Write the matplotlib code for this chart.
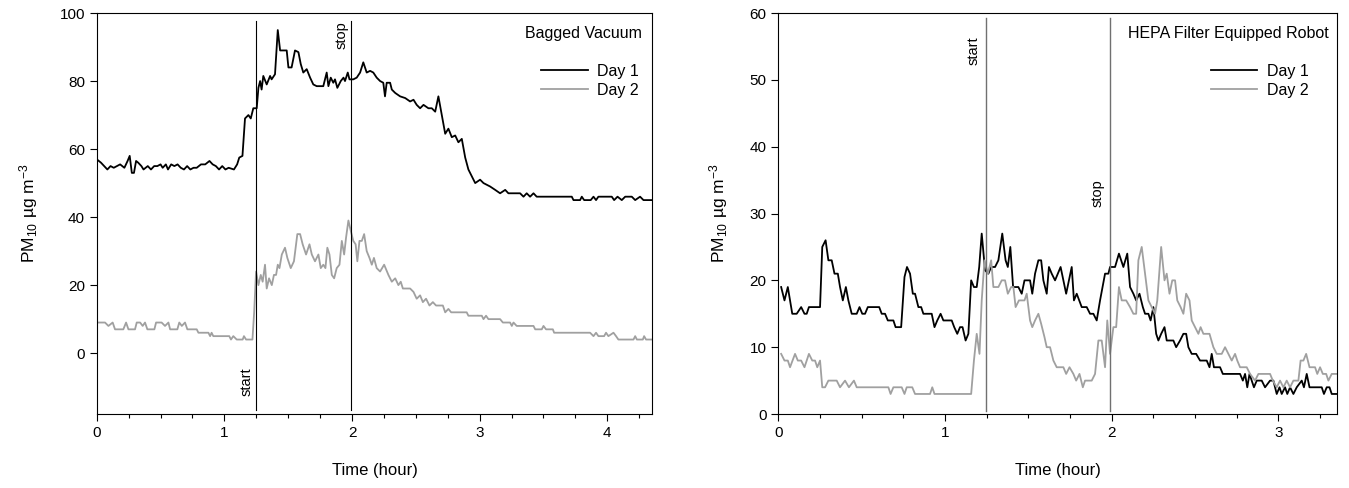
import numpy as np
import matplotlib.pyplot as plt

plt.rcParams['font.family'] = ['Liberation Sans', 'DejaVu Sans']
plt.rcParams['mathtext.fontset'] = 'custom'
plt.rcParams['mathtext.rm'] = 'Liberation Sans'
plt.rcParams['mathtext.it'] = 'Liberation Sans'

# ---- Bagged Vacuum (minutes, PM10 ug/m3) ----
bag_day1_min = [0, 2, 3.5, 5, 6.5, 8, 9.5, 11, 13, 14.5, 15.5, 16.5, 17.5, 18.5, 19.5, 21, 22, 24, 25.5,
                27, 28.5, 30, 31, 32.5, 33.5, 35, 36.5, 38, 39.5, 41, 42.5, 44, 45.5, 47, 49, 51, 53,
                54.5, 56, 57.5, 59, 60.5, 62, 64.5, 66, 67, 68.5, 69.7, 71.3, 72.4, 73.6, 75.2, 76,
                76.8, 77.5, 78.3, 79.9, 81.5, 82.2, 83.8, 85.1, 86.2, 89.3, 90.1, 91.6, 93.2, 94.8,
                95.9, 97.1, 98.7, 100.3, 101.8, 103.4, 106.5, 108.1, 108.9, 110, 111.2, 112, 113.1,
                114.7, 116, 116.7, 118, 118.8, 120.6, 122.2, 123.8, 125.3, 126.9, 128.5, 130, 131.6,
                133.2, 134.7, 135.5, 136.3, 137.9, 138.7, 140.3, 142.6, 145, 147.3, 148.9, 150.4,
                152, 153.6, 155.9, 157.5, 159.1, 160.6, 162.2, 163.8, 165.3, 166.9, 168.5, 170,
                171.6, 173.2, 174.7, 177.9, 180.2, 181.8, 184.9, 187.3, 189.6, 192, 193.5, 195.1,
                199, 200.6, 202.1, 203.7, 205.3, 206.8, 223.3, 224.1, 227.2, 228, 229.1, 232.2,
                233.5, 234.7, 235.8, 242.1, 243.2, 244.8, 246.8, 248.4, 251.5, 253.1, 255.4, 257,
                261.2]
bag_day1_val = [57, 56, 55, 54, 55, 54.5, 55, 55.5, 54.5, 56.5, 58, 53, 53, 56.5, 56, 55, 54, 55, 54,
                55, 55, 55.5, 54.5, 55.5, 54, 55.5, 55, 55.5, 54.5, 54, 55, 54, 54.5, 54.5, 55.5,
                55.5, 56.5, 55.5, 55, 54, 55, 54, 54.5, 54, 55.5, 57.5, 58, 69, 70, 69, 72, 72, 78,
                80, 77.5, 81.5, 79, 81.5, 80.5, 82, 95, 89, 89, 84, 84, 89, 88.5, 85, 82.5, 83.5,
                81, 79, 78.5, 78.5, 82.5, 78.5, 81, 79.5, 80.5, 78, 80, 81, 80, 82.5, 80.5, 80.5,
                81, 82.5, 85.5, 82.5, 83, 82.5, 81, 80, 79.5, 75.5, 79.5, 79.5, 77.5, 76.5, 75.5,
                75, 74, 74.5, 73, 72, 73, 72, 72, 71, 75.5, 70, 64.5, 66, 63.5, 64, 62, 63, 57.5,
                54, 50, 51, 50, 49, 48, 47, 48, 47, 47, 47, 46, 47, 46, 47, 46, 46, 45, 45, 46,
                45, 45, 46, 45, 46, 46, 45, 46, 45, 46, 46, 45, 46, 45, 45]

bag_day2_min = [0, 3.9, 5.5, 7.5, 8.6, 12.5, 13.8, 14.9, 18, 18.8, 20.4, 21.6, 22.7, 23.8, 27.1, 27.9,
                30.5, 32.1, 33.7, 34.5, 37.9, 38.8, 40, 41.5, 42.6, 47, 47.8, 52.5, 53.3, 54, 54.8,
                62.3, 63.1, 64.2, 65.8, 68.6, 69.2, 70.2, 73.2, 74, 74.9, 76, 77.1, 78, 79.1, 79.9,
                81, 82.3, 83.3, 84.3, 85.1, 85.9, 87, 88.5, 89.6, 91.2, 92.7, 94.3, 95.6, 96.8,
                98.4, 100, 101.1, 102.6, 104.2, 105.3, 106.5, 107.5, 108.4, 109.4, 110.5, 111.6,
                112.8, 114.1, 115.2, 116.3, 117.2, 118.3, 119.4, 120.6, 121.7, 122.5, 123.5, 124.6,
                125.7, 126.9, 128.2, 129.3, 130.3, 131.6, 133.2, 135.1, 137.1, 138.7, 140.3, 141.8,
                142.9, 143.9, 147.3, 148.9, 150.4, 152, 153.3, 154.8, 156.4, 158, 159.5, 162.7,
                163.8, 165.3, 166.6, 173.9, 174.7, 181, 181.8, 183, 184.1, 189.6, 190.9, 194.3,
                195.1, 195.9, 197.4, 205.3, 206.1, 209.2, 210, 211.2, 214.4, 215, 231.9, 233.5,
                234.7, 235.8, 238.5, 239.4, 240.5, 242.9, 244.1, 245.2, 252.3, 253.1, 253.9, 256.7,
                257.3, 258.2, 261.2]
bag_day2_val = [9, 9, 8, 9, 7, 7, 9, 7, 7, 9, 9, 8, 9, 7, 7, 9, 9, 8, 9, 7, 7, 9, 8, 9, 7, 7, 6, 6, 5,
                6, 5, 5, 4, 5, 4, 4, 5, 4, 4, 12, 24, 20, 23, 21, 26, 19, 22, 20, 23, 23, 26, 25, 29,
                31, 28, 25, 27, 35, 35, 32, 29, 32, 29, 27, 29, 25, 26, 25, 31, 29, 23, 22, 25, 26,
                33, 29, 34, 39, 36, 33, 32, 27, 33, 33, 35, 30, 28, 26, 28, 25, 24, 26, 23, 21, 22,
                20, 21, 19, 19, 18, 16, 17, 15, 16, 14, 15, 14, 14, 12, 13, 12, 12, 11, 11, 10, 11,
                10, 10, 9, 9, 8, 9, 8, 8, 7, 7, 8, 7, 7, 6, 6, 5, 6, 5, 5, 6, 5, 6, 5, 4, 4, 5, 4,
                4, 5, 4, 4]

# ---- HEPA Filter Equipped Robot (minutes, PM10 ug/m3) ----
hepa_day1_min = [1, 2.2, 3.4, 5, 6.6, 8.2, 9.4, 10.2, 11, 15, 15.8, 17, 18, 19.2, 20.2, 21.4, 22.2,
                 23.2, 24.3, 25.2, 26.4, 28.2, 29.2, 30.2, 31.2, 32.2, 36.3, 37.2, 38.4, 39.4, 41.4,
                 42.2, 44.2, 45.4, 46.3, 47.4, 48.4, 49.2, 50.4, 51.4, 52.2, 55.2, 56.2, 57.2, 58.4,
                 59.4, 62.4, 63.3, 64.4, 65.4, 66.3, 67.4, 68.4, 69.4, 70.4, 71.4, 72.3, 73.2, 74.4,
                 75.6, 76.6, 78, 79.2, 80.6, 81.8, 82.6, 83.5, 84.5, 86.4, 87.6, 88.6, 90.6, 91.4,
                 92.4, 93.6, 94.6, 95.4, 96.6, 97.4, 98.4, 99.6, 101.6, 103.6, 105.6, 106.4, 107.4,
                 109.2, 111, 112.2, 113.4, 114.6, 115.8, 117.6, 118.8, 119.4, 121.2, 122.6, 124.2,
                 125.6, 126.6, 127.8, 128.8, 130, 131.2, 132, 133.2, 134, 135, 136, 136.8, 137.8,
                 139, 139.8, 142.2, 143.2, 144.6, 145.8, 146.8, 147.6, 148.8, 150.4, 151.8, 154.2,
                 155.2, 156, 156.8, 159, 160, 166.2, 167.2, 168, 168.8, 169.6, 170.4, 171.2, 172.2,
                 174, 175.2, 177, 178.2, 179.4, 180.4, 181.2, 182.4, 183.2, 184.2, 185.4, 186.6,
                 188.4, 189.2, 190.2, 191.2, 195.6, 196.4, 197.4, 198.4, 199.2, 201]
hepa_day1_val = [19, 17, 19, 15, 15, 16, 15, 15, 16, 16, 25, 26, 23, 23, 21, 21, 19, 17, 19, 17, 15,
                 15, 16, 15, 15, 16, 16, 15, 15, 14, 14, 13, 13, 20.5, 22, 21, 18, 18, 16, 16, 15,
                 15, 13, 14, 15, 14, 14, 13, 12, 13, 13, 11, 12, 20, 19, 19, 22, 27, 21.5, 21, 22,
                 22, 23, 27, 23, 22, 25, 19, 19, 18, 20, 20, 18, 21, 23, 23, 20, 18, 22, 21, 20, 22,
                 18, 22, 17, 18, 16, 16, 15, 15, 14, 17, 21, 21, 22, 22, 24, 22, 24, 19, 18, 17, 18,
                 16, 15, 15, 14, 16, 12, 11, 12, 13, 11, 11, 10, 11, 12, 12, 10, 9, 9, 8, 8, 7, 9,
                 7, 7, 6, 6, 5, 6, 4, 6, 5, 4, 5, 5, 4, 5, 5, 3, 4, 3, 4, 3, 4, 3, 4, 5, 4, 6, 4, 4,
                 3, 4, 4, 3, 3]

hepa_day2_min = [1, 2.2, 3.4, 4.2, 6, 7, 8.2, 9.4, 11, 12.2, 13.2, 14, 15, 15.8, 16.8, 18, 21, 22.2,
                 24, 25.4, 27.2, 28.2, 39.6, 40.4, 41.4, 44.4, 45.4, 46.2, 48.2, 49.2, 54.6, 55.4,
                 56.2, 69.4, 70.4, 71.4, 72.4, 73.2, 74.2, 75.4, 76.6, 77.4, 79.2, 80.4, 81.6, 82.6,
                 83.8, 84.6, 85.4, 86.6, 88.6, 89.4, 90.6, 91.4, 92.4, 93.6, 94.6, 95.8, 96.6, 97.8,
                 99, 100.2, 102.6, 103.6, 104.8, 106.2, 107.2, 108.4, 109.6, 110.4, 112.8, 114,
                 115.2, 116.4, 117.6, 118.4, 119.4, 120.6, 121.6, 122.6, 123.6, 125.2, 126.6, 127.8,
                 128.8, 129.6, 130.8, 132, 133.2, 134.4, 135.6, 136.4, 137.8, 139, 139.8, 140.8,
                 141.8, 142.8, 143.6, 144.8, 145.8, 146.8, 148, 148.8, 150, 151.2, 152, 153, 155.2,
                 156.6, 157.8, 159.6, 160.8, 162, 163.2, 164.4, 165.2, 166.2, 168.6, 169.8, 171.6,
                 172.8, 177, 178, 179.4, 180.6, 181.8, 183, 184.2, 185.4, 187.2, 188, 189, 190,
                 191.2, 193.2, 194, 195, 196, 197.2, 198, 199.2, 201]
hepa_day2_val = [9, 8, 8, 7, 9, 8, 8, 7, 9, 8, 8, 7, 8, 4, 4, 5, 5, 4, 5, 4, 5, 4, 4, 3, 4, 4, 3, 4,
                 4, 3, 3, 4, 3, 3, 8, 12, 9, 17, 23, 21, 23, 19, 19, 20, 20, 18, 19, 19, 16, 17, 17,
                 18, 14, 13, 14, 15, 13.5, 11.5, 10, 10, 8, 7, 7, 6, 7, 6, 5, 6, 4, 5, 5, 6, 11, 11,
                 7, 14, 9, 13, 13, 19, 17, 17, 16, 15, 15, 23, 25, 21, 17, 16, 15, 17, 25, 20, 21,
                 18, 20, 20, 17, 16, 15, 18, 17, 14, 13, 12, 13, 12, 12, 10, 9, 9, 10, 9, 8, 9, 8,
                 7, 7, 6, 5, 6, 6, 5, 4, 5, 4, 5, 4, 5, 5, 8, 8, 9, 7, 7, 6, 7, 6, 6, 5, 6, 6]

bag_start, bag_stop = 1.25, 1.99      # hours
hepa_start, hepa_stop = 1.245, 1.99   # hours

black = '#000000'
grey = '#a0a0a0'

fig = plt.figure(figsize=(13.49, 4.88), dpi=100)
ax1 = fig.add_axes([0.0717, 0.1516, 0.4119, 0.8217])
ax2 = fig.add_axes([0.577, 0.1516, 0.4139, 0.8217])

# left panel
ax1.plot(np.array(bag_day1_min) / 60, bag_day1_val, color=black, lw=1.3, label='Day 1')
ax1.plot(np.array(bag_day2_min) / 60, bag_day2_val, color=grey, lw=1.3, label='Day 2')
ax1.plot([bag_start, bag_start], [-16.7, 97.7], color=black, lw=0.8)
ax1.plot([bag_stop, bag_stop], [-16.7, 97.7], color=black, lw=0.8)
ax1.text(bag_start - 0.025, -12.5, 'start', rotation=90, ha='right', va='bottom', fontsize=10.5)
ax1.text(bag_stop - 0.02, 97.5, 'stop', rotation=90, ha='right', va='top', fontsize=10.5)
ax1.text(0.981, 0.968, 'Bagged Vacuum', transform=ax1.transAxes, ha='right', va='top', fontsize=11.5)
ax1.set_xticks([0, 1, 2, 3, 4])
ax1.set_xticks(np.arange(0, 4.5, 0.25), minor=True)
ax1.set_yticks([0, 20, 40, 60, 80, 100])
ax1.set_xlim(0, 4.353)
ax1.set_ylim(-17.9, 100)

# right panel
ax2.plot(np.array(hepa_day1_min) / 60, hepa_day1_val, color=black, lw=1.3, label='Day 1')
ax2.plot(np.array(hepa_day2_min) / 60, hepa_day2_val, color=grey, lw=1.3, label='Day 2')
ax2.plot([hepa_start, hepa_start], [0.5, 59.2], color='#707070', lw=1.0)
ax2.plot([hepa_stop, hepa_stop], [0.5, 59.2], color='#707070', lw=1.0)
ax2.text(hepa_start - 0.03, 56.5, 'start', rotation=90, ha='right', va='top', fontsize=10.5)
ax2.text(hepa_stop - 0.03, 31, 'stop', rotation=90, ha='right', va='bottom', fontsize=10.5)
ax2.text(0.986, 0.968, 'HEPA Filter Equipped Robot', transform=ax2.transAxes, ha='right', va='top',
         fontsize=11.5)
ax2.set_xticks([0, 1, 2, 3])
ax2.set_xticks(np.arange(0, 3.5, 0.25), minor=True)
ax2.set_yticks([0, 10, 20, 30, 40, 50, 60])
ax2.set_xlim(0, 3.35)
ax2.set_ylim(0, 60)

for ax, lx in [(ax1, 0.976), (ax2, 0.95)]:
    ax.tick_params(which='major', direction='out', length=5, width=0.8, labelsize=11)
    ax.tick_params(which='minor', direction='out', length=3, width=0.8)
    ax.tick_params(axis='y', which='minor', left=False)
    for s in ax.spines.values():
        s.set_linewidth(0.8)
    ax.set_xlabel('Time (hour)', fontsize=12, labelpad=17)
    ax.set_ylabel('PM$_{10}$ µg m$^{-3}$', fontsize=12.5, labelpad=14)
    ax.legend(loc='upper right', bbox_to_anchor=(lx, 0.874), frameon=False, fontsize=11.5,
              handlelength=2.9, handletextpad=0.6, borderpad=0, borderaxespad=0, labelspacing=0.25)

fig.savefig('out.png', dpi=100)
